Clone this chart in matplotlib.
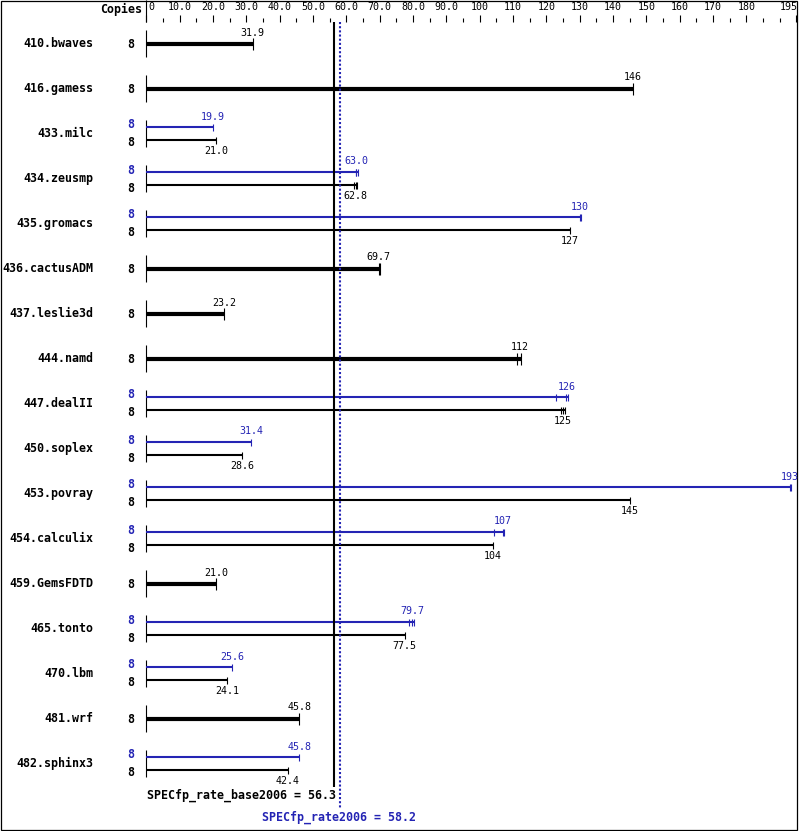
import matplotlib
matplotlib.use("Agg")
import matplotlib.pyplot as plt
from matplotlib.patches import Rectangle

# benchmark data (SPECfp_rate2006 ratios)
benchmarks = ["410.bwaves", "416.gamess", "433.milc", "434.zeusmp", "435.gromacs",
              "436.cactusADM", "437.leslie3d", "444.namd", "447.dealII", "450.soplex",
              "453.povray", "454.calculix", "459.GemsFDTD", "465.tonto", "470.lbm",
              "481.wrf", "482.sphinx3"]
copies = [8] * 17
base_ratio = [31.9, 146, 21.0, 62.8, 127, 69.7, 23.2, 112, 125, 28.6,
              145, 104, 21.0, 77.5, 24.1, 45.8, 42.4]
peak_ratio = [None, None, 19.9, 63.0, 130, None, None, None, 126, 31.4,
              193, 107, None, 79.7, 25.6, None, 45.8]
# individual run values (end ticks)
base_runs = [[31.9], [146], [21.0], [62.3, 62.8, 63.1], [127], [69.7, 70.1],
             [23.2], [111.2, 112.4], [124.4, 125, 125.5], [28.6], [145], [104],
             [21.0], [77.5], [24.1], [45.8], [42.4]]
peak_runs = [None, None, [19.9], [62.9, 63.0, 63.4], [130, 130.4], None, None, None,
             [122.8, 125.8, 126.4], [31.4], [193, 193.5], [104.3, 107, 107.4], None,
             [78.8, 79.7, 80.3], [25.6], None, [45.8]]
base_mean = 56.3
peak_mean = 58.2

major_ticks = [0, 10, 20, 30, 40, 50, 60, 70, 80, 90, 100, 110, 120, 130,
               140, 150, 160, 170, 180, 195]
minor_ticks = [5, 15, 25, 35, 45, 55, 65, 75, 85, 95, 105, 115, 125, 135,
               145, 155, 165, 175, 185, 190]

BLUE = "#2424b4"
MONO = "DejaVu Sans Mono"

W, H = 799, 831
X0, SCALE = 146.5, 3.333

fig = plt.figure(figsize=(W / 100, H / 100), dpi=100)
ax = fig.add_axes([0, 0, 1, 1])
ax.set_xlim(-X0 / SCALE, (W - X0) / SCALE)
ax.set_ylim(H, 0)
ax.axis("off")


def px(x):
    return (x - X0) / SCALE


def fmt(v):
    if v == 0:
        return "0"
    return "%d" % round(v) if v >= 100 else "%.1f" % v


# border
ax.add_patch(Rectangle((px(0.5), 0.5), 797 / SCALE, 829, fill=False,
                       lw=0.9, ec="black", clip_on=False))

# top scale
ax.vlines(0, 0, 22, color="black", lw=0.8)
ax.vlines(major_ticks, 15, 22, color="black", lw=0.8)
ax.vlines(minor_ticks, 18, 22, color="black", lw=0.8)
for t in major_ticks:
    ha = "center"
    x = t
    if t == 0:
        ha, x = "left", t + 0.6
    elif t == 195:
        ha, x = "right", t + 0.3
    ax.text(x, 7.5, fmt(t), ha=ha, va="center", family=MONO, fontsize=7.2)
ax.text(px(142), 9.5, "Copies", ha="right", va="center", family=MONO,
        fontsize=8.4, fontweight="bold")

for i, name in enumerate(benchmarks):
    yc = 43.5 + 45 * i
    ax.vlines(0, yc - 13.5, yc + 13.5, color="black", lw=0.8)
    ax.text(px(93), yc, name, ha="right", va="center", family=MONO,
            fontsize=8.4, fontweight="bold")
    if peak_ratio[i] is None:
        runs = base_runs[i]
        ax.hlines(yc, 0, max(runs), color="black", lw=3.0)
        ax.vlines(runs, yc - 6, yc + 6, color="black", lw=0.8)
        ax.text(base_ratio[i], yc - 11, fmt(base_ratio[i]), ha="center",
                va="center", family=MONO, fontsize=7.2)
        ax.text(px(130.5), yc + 1, str(copies[i]), ha="center", va="center",
                family=MONO, fontsize=8.4, fontweight="bold")
    else:
        yp, yb = yc - 6.5, yc + 6.5
        pr, br = peak_runs[i], base_runs[i]
        ax.hlines(yp, 0, max(pr), color=BLUE, lw=1.5)
        ax.vlines(pr, yp - 3.5, yp + 3.5, color=BLUE, lw=0.8)
        ax.hlines(yb, 0, max(br), color="black", lw=1.5)
        ax.vlines(br, yb - 3.5, yb + 3.5, color="black", lw=0.8)
        ax.text(peak_ratio[i], yp - 10.5, fmt(peak_ratio[i]), ha="center",
                va="center", family=MONO, fontsize=7.2, color=BLUE)
        ax.text(base_ratio[i], yb + 11, fmt(base_ratio[i]), ha="center",
                va="center", family=MONO, fontsize=7.2)
        ax.text(px(130.5), yc - 8.5, str(copies[i]), ha="center", va="center",
                family=MONO, fontsize=8.4, fontweight="bold", color=BLUE)
        ax.text(px(130.5), yc + 9.5, str(copies[i]), ha="center", va="center",
                family=MONO, fontsize=8.4, fontweight="bold")

# overall means
ax.vlines(base_mean, 22, 787, color="black", lw=1.5)
ax.vlines(peak_mean, 22, 808, color=BLUE, lw=1.5, linestyles=(0, (1, 1)))
ax.text(px(336), 795, "SPECfp_rate_base2006 = %.1f" % base_mean, ha="right",
        va="center", family=MONO, fontsize=8.4, fontweight="bold")
ax.text(peak_mean - 0.5, 817, "SPECfp_rate2006 = %.1f" % peak_mean, ha="center",
        va="center", family=MONO, fontsize=8.4, fontweight="bold", color=BLUE)

fig.savefig("out.png", dpi=100)
